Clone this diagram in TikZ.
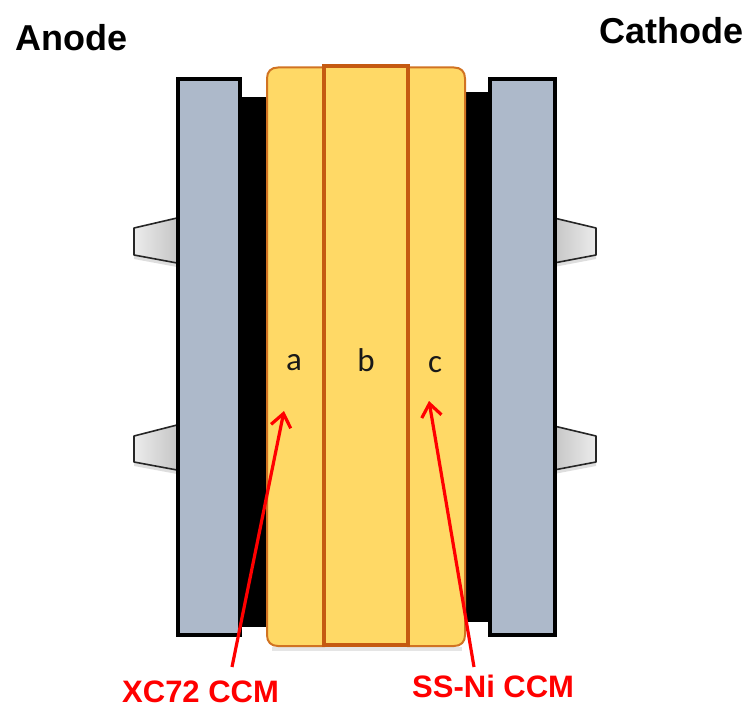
\documentclass[tikz,border=0pt]{standalone}
\usepackage{fontspec}
\setmainfont{Liberation Sans}
\newfontfamily\calib{Carlito}
\usetikzlibrary{arrows.meta}
\definecolor{plateblue}{HTML}{ADB9CA}
\definecolor{ccmyellow}{HTML}{FFD966}
\definecolor{ccmedge}{HTML}{C55A11}
\definecolor{redlabel}{HTML}{FF0000}
\tikzset{
  plate/.style={draw=black,line width=4pt,fill=plateblue,miter limit=10},
  backing/.style={fill=black,draw=none},
  ccm/.style={fill=ccmyellow,draw=ccmedge!80!ccmyellow,line width=2pt},
  membrane/.style={fill=ccmyellow,draw=ccmedge,line width=3.4pt},
  tabL/.style={draw=black!85,line width=1.6pt,left color=gray!15,right color=gray!45,line join=round},
  tabR/.style={draw=black!85,line width=1.6pt,left color=gray!45,right color=gray!15,line join=round},
  tabshadow/.style={fill=black,opacity=.13,draw=none},
  heading/.style={font=\fontsize{36}{36}\selectfont\bfseries,text=black,inner sep=0pt},
  redtext/.style={font=\fontsize{31}{31}\selectfont\bfseries,text=redlabel,inner sep=0pt},
  letter/.style={font=\calib\fontsize{33}{33}\selectfont,text=black!90,inner sep=0pt},
  pointer/.style={draw=redlabel,line width=3.2pt,-{Straight Barb[length=13pt,width=20pt,line width=3.2pt]}}
}
\begin{document}
\begin{tikzpicture}[x=1pt,y=-1pt]
\useasboundingbox (0,0) rectangle (748,706);
% tabs
\fill[tabshadow] (177,222) -- (134,232) -- (134,259) -- (177,267) -- cycle;
\fill[tabshadow] (177,429) -- (134,440) -- (134,466) -- (177,474) -- cycle;
\fill[tabshadow] (554,222) -- (596,232) -- (596,259) -- (554,267) -- cycle;
\fill[tabshadow] (554,430) -- (596,440) -- (596,466) -- (554,474) -- cycle;
\draw[tabL] (177,218) -- (134,228) -- (134,255) -- (177,263) -- cycle;
\draw[tabL] (177,425) -- (134,436) -- (134,462) -- (177,470) -- cycle;
\draw[tabR] (554,218) -- (596,228) -- (596,255) -- (554,263) -- cycle;
\draw[tabR] (554,426) -- (596,436) -- (596,462) -- (554,470) -- cycle;
% backing layers
\fill[backing] (238,97) rectangle (268,627);
\fill[backing] (464,92) rectangle (491,622);
% end plates
\draw[plate] (177.5,79) rectangle (239.5,634.5);
\draw[plate] (490,79) rectangle (554.5,634.5);
% shadow under the CCM
\fill[black,opacity=.10] (272,647) rectangle (462,651);
% CCM layers
\draw[ccm] (324,67.5) -- (278,67.5) .. controls (271,67.5) and (267,71.5) .. (267,78.5) -- (267,635) .. controls (267,642) and (271,646) .. (278,646) -- (324,646) -- cycle;
\draw[ccm] (408,67.5) -- (454,67.5) .. controls (461,67.5) and (465,71.5) .. (465,78.5) -- (465,635) .. controls (465,642) and (461,646) .. (454,646) -- (408,646) -- cycle;
\draw[membrane] (324,66) rectangle (408,645);
% letters
\node[letter] (a) at (294,363) {a};
\node[letter] (b) at (366,360) {b};
\node[letter] (c) at (435,365) {c};
% headings
\node[heading,anchor=west] (anode) at (15,38) {Anode};
\node[heading,anchor=west] (cathode) at (599,31) {Cathode};
% red labels
\node[redtext,anchor=west] (xc) at (122,692) {XC72 CCM};
\node[redtext,anchor=west] (ss) at (412,686) {SS-Ni CCM};
\coordinate (xcfrom) at (232,667);
\coordinate (xcto) at (284,411);
\coordinate (ssfrom) at (474,667);
\coordinate (ssto) at (429,401);
\draw[pointer] (xcfrom) -- (xcto);
\draw[pointer] (ssfrom) -- (ssto);
\end{tikzpicture}
\end{document}
